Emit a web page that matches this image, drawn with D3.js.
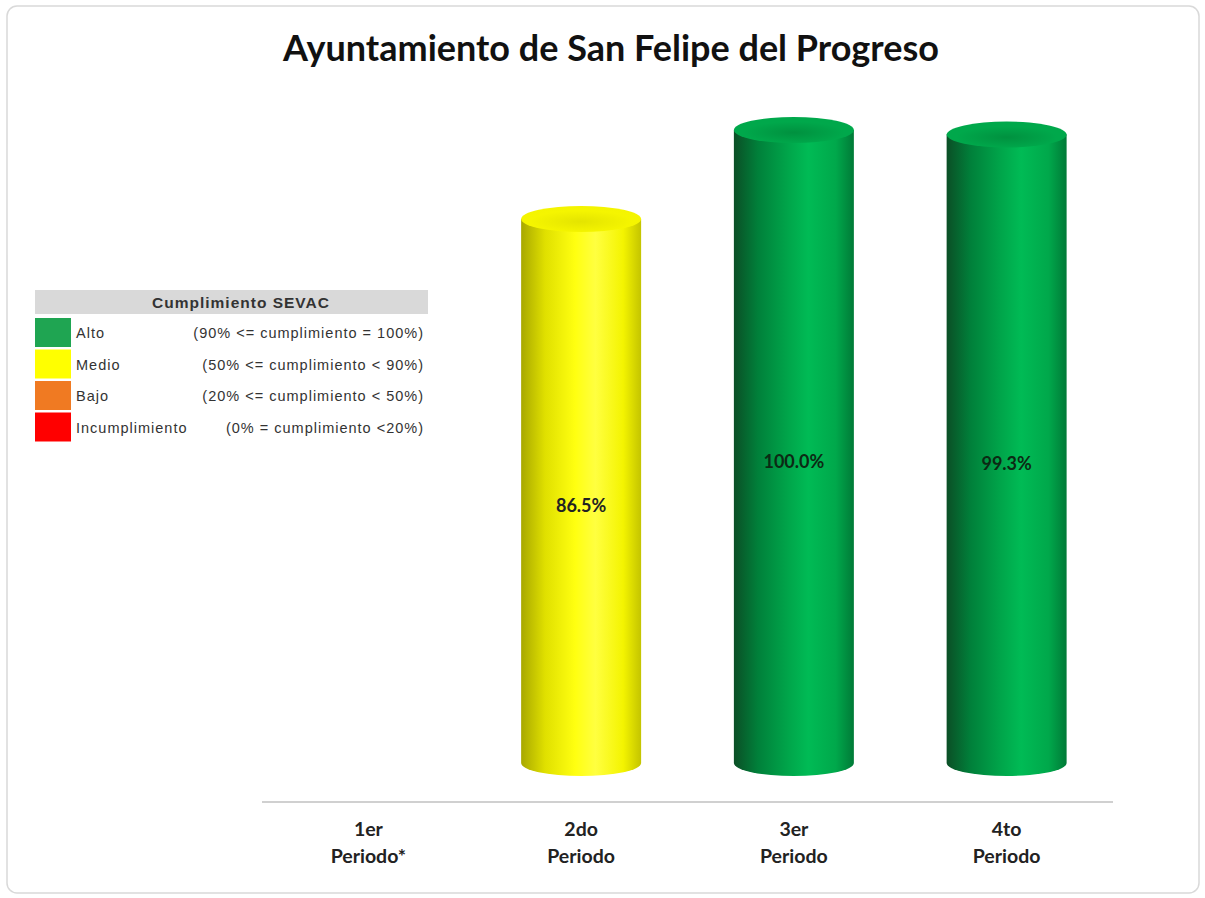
<!DOCTYPE html>
<html lang="es">
<head>
<meta charset="UTF-8">
<title>Ayuntamiento de San Felipe del Progreso</title>
<script src="https://d3js.org/d3.v7.min.js"></script>
<style>
  body { margin: 0; background: #fff; }
  svg { display: block; }
  .cat { font-family: Lato, "Open Sans", sans-serif; font-weight: bold; font-size: 19.5px; fill: #222; }
  .legend { font-family: "Liberation Sans", Arial, sans-serif; font-size: 14.5px; letter-spacing: 1px; fill: #333; }
</style>
</head>
<body>
<div id="chart"></div>
<script>
// data
const periods = ["1er\nPeriodo*", "2do\nPeriodo", "3er\nPeriodo", "4to\nPeriodo"];
const values = [null, 86.5, 100.0, 99.3];
const levels = ["Alto", "Medio", "Bajo", "Incumplimiento"];
const levelRanges = ["(90% <= cumplimiento = 100%)", "(50% <= cumplimiento < 90%)",
                     "(20% <= cumplimiento < 50%)", "(0% = cumplimiento <20%)"];
const levelColors = ["#1fa552", "#ffff00", "#f07a22", "#ff0000"];

const W = 1205, H = 898;
const svg = d3.select("#chart").append("svg")
    .attr("width", W)
    .attr("height", H);

// frame
svg.append("rect")
    .attr("x", 7).attr("y", 6)
    .attr("width", 1192).attr("height", 887)
    .attr("rx", 10)
    .attr("fill", "#fff")
    .attr("stroke", "#d9d9d9")
    .attr("stroke-width", 1.5);

svg.append("text")
    .attr("x", 611).attr("y", 61)
    .attr("text-anchor", "middle")
    .style("font-family", "Lato, 'Open Sans', sans-serif")
    .style("font-weight", "bold")
    .style("font-size", "36px")
    .attr("fill", "#111")
    .text("Ayuntamiento de San Felipe del Progreso");

const x = d3.scaleBand()
    .domain(periods)
    .range([262, 1113])
    .paddingInner(0.436)
    .paddingOuter(0.218);

const y = d3.scaleLinear()
    .domain([0, 100])
    .range([776, 117]);

// gradients for cylinder shading
const defs = svg.append("defs");
function colorFor(v) {
    if (v >= 90) return "green";
    if (v >= 50) return "yellow";
    if (v >= 20) return "orange";
    return "red";
}
const shades = {
    green: { body: ["#0b4f26", "#00803a", "#00a54a", "#00bb55", "#00a84b", "#007a37"], top: "#00a84b", topIn: "#00913f" },
    yellow: { body: ["#a8a800", "#e0e000", "#ffff10", "#ffff40", "#f4f400", "#c4c400"], top: "#f5f500", topIn: "#e4e400" },
    orange: { body: ["#9a4a10", "#d8691c", "#f07a22", "#ff9040", "#e87020", "#b85a18"], top: "#f07a22", topIn: "#d86a1c" },
    red: { body: ["#900000", "#d80000", "#ff0000", "#ff3030", "#ee0000", "#b00000"], top: "#ff1010", topIn: "#e00000" }
};
Object.entries(shades).forEach(([k, s]) => {
    const g = defs.append("linearGradient").attr("id", "body-" + k)
        .attr("x1", "0%").attr("x2", "100%").attr("y1", "0%").attr("y2", "0%");
    const stops = [0, 0.2, 0.45, 0.62, 0.85, 1];
    s.body.forEach((c, i) => g.append("stop").attr("offset", stops[i]).attr("stop-color", c));
    const t = defs.append("radialGradient").attr("id", "top-" + k)
        .attr("cx", "50%").attr("cy", "60%").attr("r", "60%");
    t.append("stop").attr("offset", 0).attr("stop-color", s.topIn);
    t.append("stop").attr("offset", 0.7).attr("stop-color", s.top);
    t.append("stop").attr("offset", 1).attr("stop-color", s.body[4]);
});

const ry = 13;
const bars = svg.selectAll(".bar")
    .data(periods.map((p, i) => ({ p, v: values[i] })).filter(d => d.v != null))
    .enter().append("g")
    .attr("class", "bar");

// body: rectangle with elliptical bottom
bars.append("path")
    .attr("d", d => {
        const x0 = x(d.p), w = x.bandwidth(), rx = w / 2;
        const top = y(d.v) + ry, bot = y(0) - ry;
        return `M${x0},${top} L${x0},${bot} A${rx},${ry} 0 0 0 ${x0 + w},${bot} L${x0 + w},${top} Z`;
    })
    .attr("fill", d => `url(#body-${colorFor(d.v)})`);

// top cap
bars.append("ellipse")
    .attr("cx", d => x(d.p) + x.bandwidth() / 2)
    .attr("cy", d => y(d.v) + ry)
    .attr("rx", x.bandwidth() / 2)
    .attr("ry", ry)
    .attr("fill", d => `url(#top-${colorFor(d.v)})`);

bars.append("text")
    .attr("x", d => x(d.p) + x.bandwidth() / 2)
    .attr("y", d => (y(d.v) + y(0)) / 2 + 21)
    .attr("text-anchor", "middle")
    .style("font-family", "Lato, 'Open Sans', sans-serif")
    .style("font-weight", "bold")
    .style("font-size", "18px")
    .attr("fill", d => d.v >= 90 ? "#0c2a14" : "#222")
    .text(d => d.v.toFixed(1) + "%");

// axis baseline
svg.append("line")
    .attr("x1", 262).attr("x2", 1113)
    .attr("y1", 802).attr("y2", 802)
    .attr("stroke", "#d0d0d0")
    .attr("stroke-width", 2);

const cats = svg.selectAll(".cat")
    .data(periods)
    .enter().append("text")
    .attr("class", "cat")
    .attr("text-anchor", "middle")
    .attr("x", d => x(d) + x.bandwidth() / 2)
    .attr("y", 836);
cats.selectAll("tspan")
    .data(d => d.split("\n"))
    .enter().append("tspan")
    .attr("x", function () { return d3.select(this.parentNode).attr("x"); })
    .attr("dy", (d, i) => i === 0 ? 0 : 27)
    .text(d => d);

// legend
const lg = svg.append("g");
lg.append("rect")
    .attr("x", 35).attr("y", 290)
    .attr("width", 393).attr("height", 24)
    .attr("fill", "#d9d9d9");
lg.append("text")
    .attr("x", 241).attr("y", 308)
    .attr("text-anchor", "middle")
    .attr("class", "legend")
    .style("font-weight", "bold")
    .style("font-size", "15.5px")
    .style("letter-spacing", "1px")
    .attr("fill", "#222")
    .text("Cumplimiento SEVAC");

const rows = lg.selectAll(".row")
    .data(levels)
    .enter().append("g")
    .attr("class", "row")
    .attr("transform", (d, i) => `translate(0, ${318 + i * 31.5})`);
rows.append("rect")
    .attr("x", 35).attr("y", 0)
    .attr("width", 36).attr("height", 29)
    .attr("fill", (d, i) => levelColors[i]);
rows.append("text")
    .attr("class", "legend")
    .attr("x", 76).attr("y", 20)
    .text(d => d);
rows.append("text")
    .attr("class", "legend")
    .attr("x", 424).attr("y", 20)
    .attr("text-anchor", "end")
    .text((d, i) => levelRanges[i]);
</script>
</body>
</html>
